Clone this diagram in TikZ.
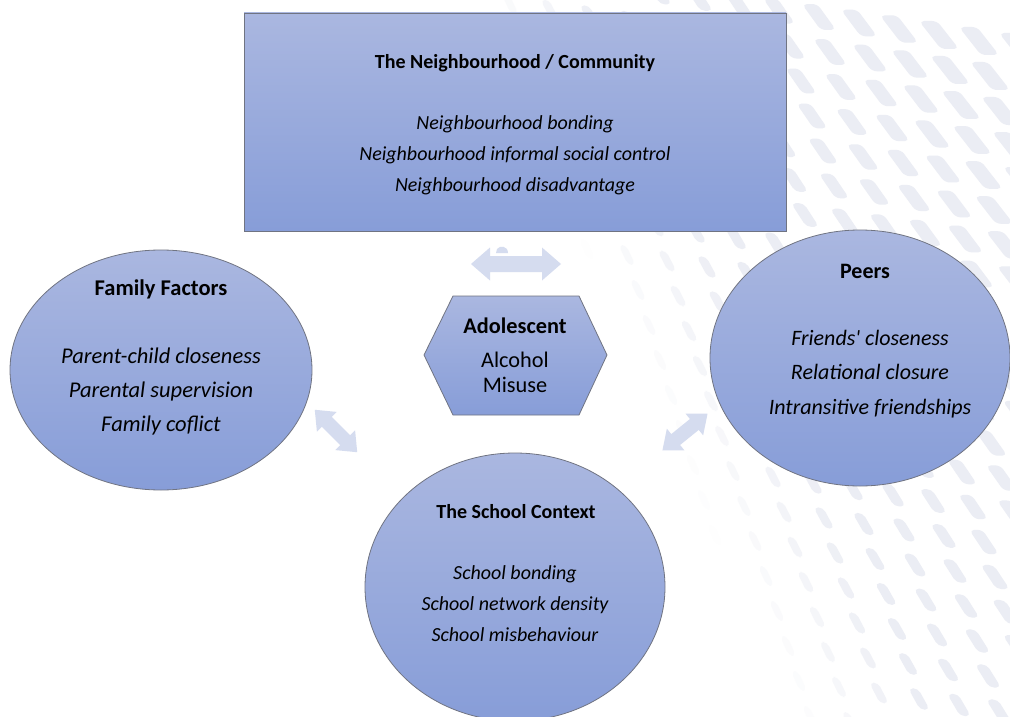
\documentclass[tikz,border=0pt]{standalone}
\usepackage{fontspec}
\setmainfont{Carlito}
\usetikzlibrary{shapes.geometric}
\definecolor{shadetop}{RGB}{170,183,224}
\definecolor{shadebot}{RGB}{135,157,216}
\definecolor{rimgray}{RGB}{112,116,130}
\definecolor{arrowfill}{RGB}{213,220,239}
\definecolor{leafgray}{RGB}{235,237,244}
% block double arrow: centre x, centre y, angle, length, head length, head half-width, shaft half-width
\newcommand\blockarrow[7]{%
  \begin{scope}[shift={(#1,#2)}, rotate=#3]
    \fill[arrowfill] (-#4/2,0) -- (-#4/2+#5,-#6) -- (-#4/2+#5,-#7) -- (#4/2-#5,-#7)
      -- (#4/2-#5,-#6) -- (#4/2,0) -- (#4/2-#5,#6) -- (#4/2-#5,#7)
      -- (-#4/2+#5,#7) -- (-#4/2+#5,#6) -- cycle;
  \end{scope}}
\begin{document}
\begin{tikzpicture}[x=1pt,y=-1pt,
  panel/.style={draw=rimgray, line width=0.8pt, top color=shadetop, bottom color=shadebot, inner sep=0pt},
  oval/.style={panel, ellipse},
  title/.style={font=\bfseries\fontsize{#1}{22}\selectfont, inner sep=0pt},
  title/.default=20,
  items/.style 2 args={font=\itshape\fontsize{#1}{#2}\selectfont, align=center, inner sep=0pt}
]
\useasboundingbox (0,0) rectangle (1010,717);
\clip (0,0) rectangle (1010,717);
\fill[white] (0,0) rectangle (1010,717);

% slanted leaf pattern in the background, fading out towards the lower left
\foreach \r in {-1,...,21}{
  \foreach \c in {-3,...,16}{
    \pgfmathsetmacro\px{430+40*\c+11*\r}
    \pgfmathsetmacro\py{-8+6*\c+35*\r}
    \pgfmathsetmacro\op{max(0,min(1,(\px-470-0.45*\py)/140))}
    \pgfmathsetmacro\sz{max(0.4,min(1,0.45+(\px-600)/700-(\py-150)/1500))}
    \ifdim\op pt>0.02pt
      \fill[leafgray, opacity=\op, shift={(\px,\py)}, xscale=\sz, yscale=0.5+0.5*\sz,
            rounded corners=5pt]
        (-20,-14) -- (-2,-14) -- (20,14) -- (2,14) -- cycle;
    \fi
  }}

% surrounding contexts
\node[panel, minimum width=542pt, minimum height=218pt] (hood) at (515,122) {};
\node[oval, minimum width=302pt, minimum height=240pt] (family) at (161,370) {};
\node[oval, minimum width=300pt, minimum height=256pt] (peers) at (860,358) {};
\node[oval, minimum width=300pt, minimum height=268pt] (school) at (515,587) {};

% the adolescent in the middle
\draw[panel] (424,355) -- (453,296) -- (579,296) -- (607,355) -- (579,415) -- (453,415) -- cycle;
\node[title=22.3] (adolT) at (515,326) {Adolescent};
\node[font=\fontsize{22.3}{25}\selectfont, align=center, inner sep=0pt] (adolL) at (515,372.5) {Alcohol\\Misuse};

% interaction arrows
\blockarrow{516}{264}{0}{90}{19}{16.5}{8}
\fill[arrowfill] (496,253) -- (508,253) .. controls (508,246) and (500,245) .. (497,249) -- cycle;
\blockarrow{336}{431}{-45}{60}{17}{14}{7}
\blockarrow{685}{432}{39}{58}{17}{14}{7}

% labels
\node[title] (hoodT) at (515,63) {The Neighbourhood / Community};
\node[items={20}{31}] (hoodL) at (515,155) {Neighbourhood bonding\\Neighbourhood informal social control\\Neighbourhood disadvantage};

\node[title=22.5] (familyT) at (161,289) {Family Factors};
\node[items={22.5}{34}] (familyL) at (161,391) {Parent-child closeness\\Parental supervision\\Family coflict};

\node[title=22] (peersT) at (865,271) {Peers};
\node[items={22}{34.5}] (peersL) at (870,374) {Friends\textquotesingle{} closeness\\Relational closure\\Intransitive friendships};

\node[title] (schoolT) at (516,512) {The School Context};
\node[items={20}{31}] (schoolL) at (515,604) {School bonding\\School network density\\School misbehaviour};
\end{tikzpicture}
\end{document}
